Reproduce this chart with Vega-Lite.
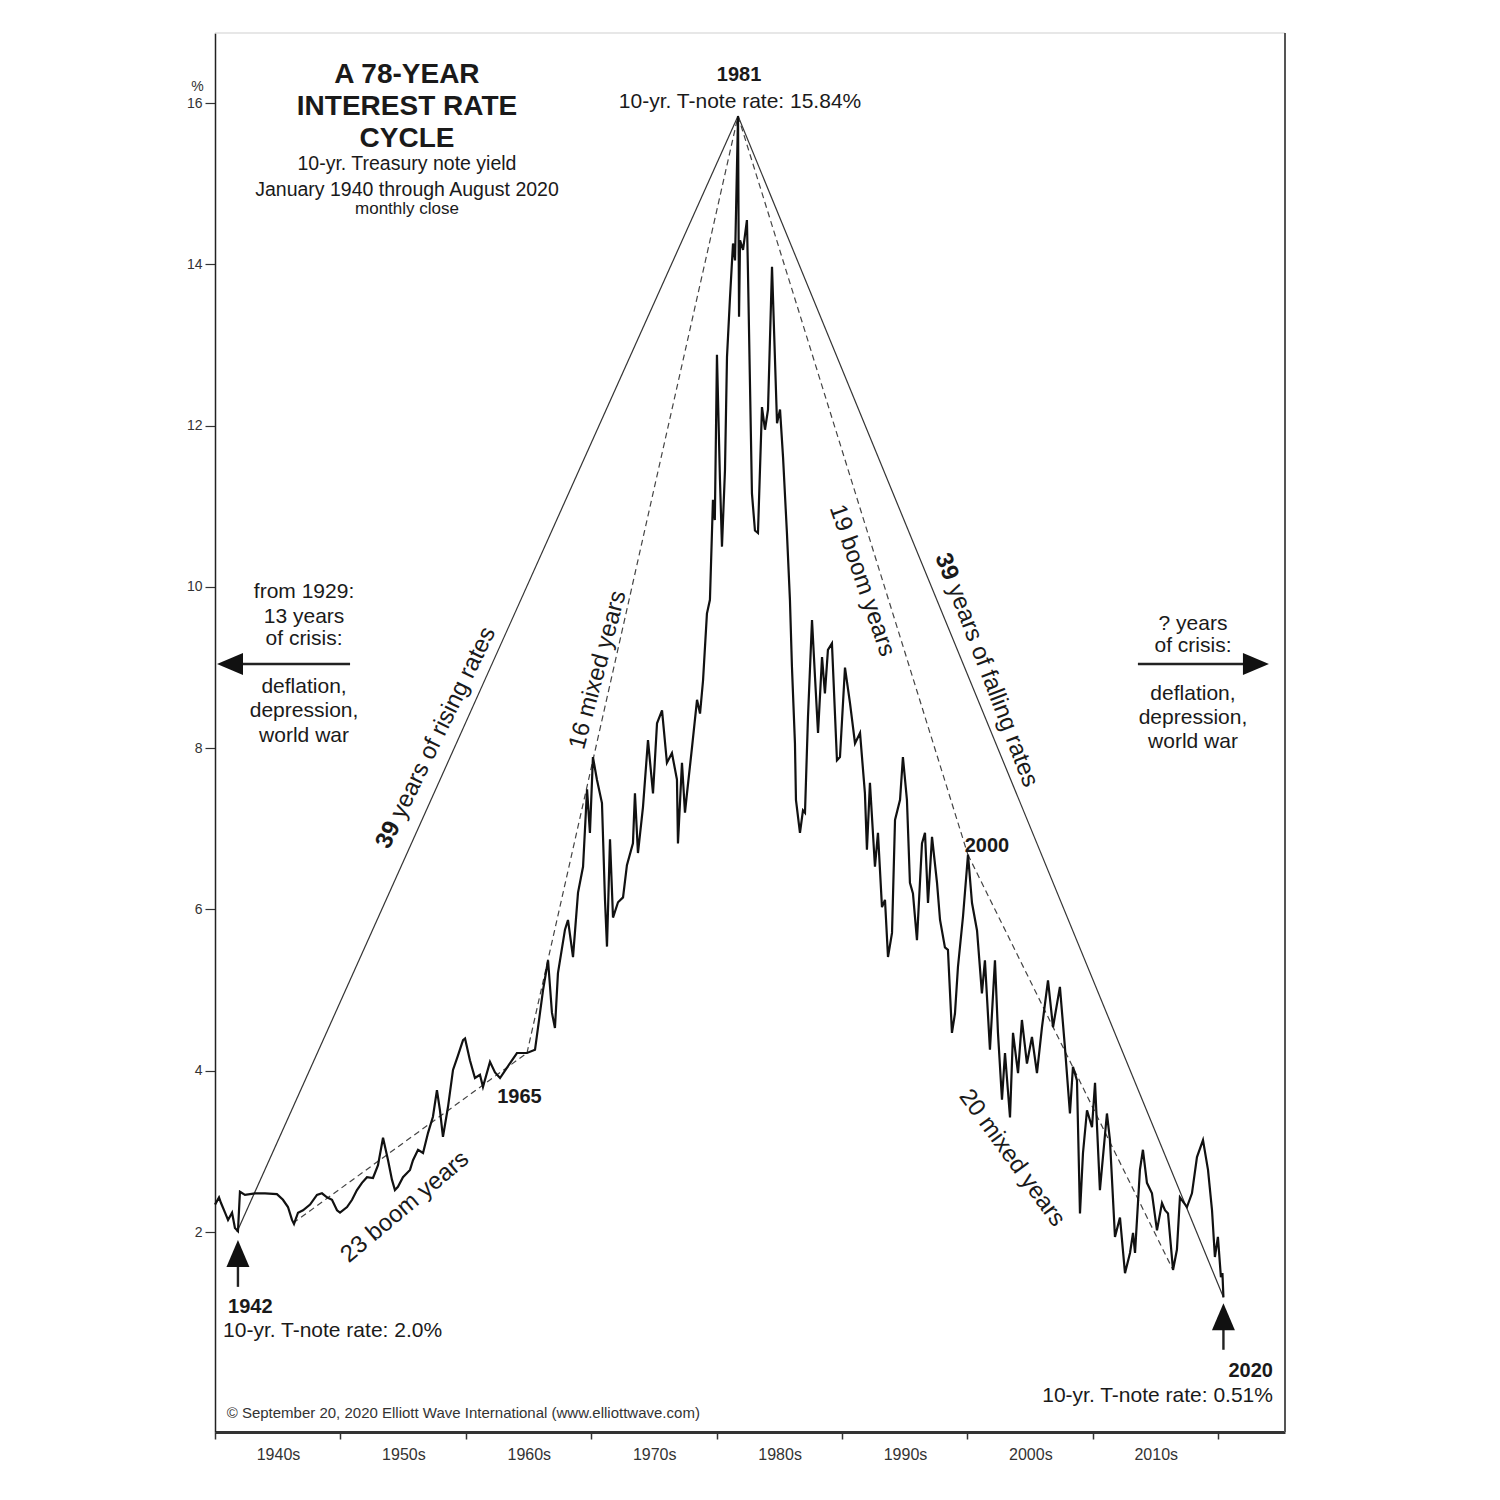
{
  "$schema": "https://vega.github.io/schema/vega-lite/v6.json",
  "width": 1070,
  "height": 1399,
  "autosize": {"type": "none"},
  "padding": {"left": 215, "top": 33, "right": 215, "bottom": 68},
  "background": "white",
  "config": {
    "view": {"stroke": null},
    "font": "Liberation Sans",
    "text": {"font": "Liberation Sans", "color": "#1a1a1a"}
  },
  "encoding": {
    "x": {
      "field": "year",
      "type": "quantitative",
      "scale": {"domain": [1940, 2025.33], "nice": false, "zero": false},
      "axis": {
        "values": [1940, 1950, 1960, 1970, 1980, 1990, 2000, 2010, 2020],
        "labelExpr": "datum.value >= 2020 ? '' : datum.value + 's'",
        "labelOffset": 63,
        "labelOverlap": false,
        "labelBound": false,
        "labelFlush": false,
        "labelFontSize": 16,
        "labelColor": "#333",
        "labelPadding": 7,
        "tickSize": 7,
        "tickColor": "#333",
        "tickWidth": 1.5,
        "domainColor": "#333",
        "domainWidth": 3,
        "grid": false,
        "title": null
      }
    },
    "y": {
      "field": "rate",
      "type": "quantitative",
      "scale": {"domain": [-0.48, 16.87], "nice": false, "zero": false},
      "axis": {
        "values": [2, 4, 6, 8, 10, 12, 14, 16],
        "labelFontSize": 14,
        "labelColor": "#333",
        "labelPadding": 3,
        "tickSize": 10,
        "tickColor": "#333",
        "tickWidth": 1.2,
        "domainColor": "#222",
        "domainWidth": 1.5,
        "grid": false,
        "title": "%",
        "titleAngle": 0,
        "titleX": -18,
        "titleY": 53,
        "titleFontSize": 14,
        "titleFontWeight": "normal",
        "titleColor": "#333",
        "titleAlign": "center",
        "titleBaseline": "middle"
      }
    }
  },
  "layer": [
    {
      "data": {"values": [
        {"year": 1940, "rate": 16.87, "year2": 2025.33, "rate2": 16.87, "edge": "top"}
      ]},
      "mark": {"type": "rule", "color": "#cfcfcf", "strokeWidth": 1},
      "encoding": {"x2": {"field": "year2"}, "y2": {"field": "rate2"}}
    },
    {
      "data": {"values": [
        {"year": 2025.33, "rate": 16.87, "year2": 2025.33, "rate2": -0.48, "edge": "right"}
      ]},
      "mark": {"type": "rule", "color": "#555", "strokeWidth": 2},
      "encoding": {"x2": {"field": "year2"}, "y2": {"field": "rate2"}}
    },
    {
      "data": {"values": [
        {"year": 1941.75, "rate": 2.0, "year2": 1981.71, "rate2": 15.84},
        {"year": 1981.71, "rate": 15.84, "year2": 2020.42, "rate2": 1.19}
      ]},
      "mark": {"type": "rule", "color": "#333", "strokeWidth": 1.2},
      "encoding": {"x2": {"field": "year2"}, "y2": {"field": "rate2"}}
    },
    {
      "data": {"values": [
        {"year": 1946.22, "rate": 2.11, "year2": 1964.88, "rate2": 4.22},
        {"year": 1964.88, "rate": 4.22, "year2": 1981.71, "rate2": 15.84},
        {"year": 1981.71, "rate": 15.84, "year2": 2000.04, "rate2": 6.68},
        {"year": 2000.04, "rate": 6.68, "year2": 2016.4, "rate2": 1.53}
      ]},
      "mark": {"type": "rule", "color": "#444", "strokeWidth": 1.2, "strokeDash": [6, 4]},
      "encoding": {"x2": {"field": "year2"}, "y2": {"field": "rate2"}}
    },
    {
      "data": {"values": [
        {"year": 1940.00, "rate": 2.34}, {"year": 1940.32, "rate": 2.43}, {"year": 1940.48, "rate": 2.36},
        {"year": 1940.80, "rate": 2.24}, {"year": 1941.04, "rate": 2.15}, {"year": 1941.36, "rate": 2.24},
        {"year": 1941.59, "rate": 2.05}, {"year": 1941.83, "rate": 2.01}, {"year": 1941.99, "rate": 2.50},
        {"year": 1942.39, "rate": 2.46}, {"year": 1943.19, "rate": 2.48}, {"year": 1943.99, "rate": 2.48},
        {"year": 1944.94, "rate": 2.47}, {"year": 1945.42, "rate": 2.40}, {"year": 1945.82, "rate": 2.31},
        {"year": 1946.14, "rate": 2.15}, {"year": 1946.30, "rate": 2.10}, {"year": 1946.62, "rate": 2.24},
        {"year": 1947.02, "rate": 2.27}, {"year": 1947.58, "rate": 2.34}, {"year": 1948.13, "rate": 2.46},
        {"year": 1948.53, "rate": 2.48}, {"year": 1948.93, "rate": 2.43}, {"year": 1949.33, "rate": 2.40},
        {"year": 1949.73, "rate": 2.27}, {"year": 1949.97, "rate": 2.24}, {"year": 1950.53, "rate": 2.31},
        {"year": 1950.93, "rate": 2.40}, {"year": 1951.32, "rate": 2.52}, {"year": 1951.72, "rate": 2.61},
        {"year": 1952.12, "rate": 2.68}, {"year": 1952.60, "rate": 2.67}, {"year": 1953.00, "rate": 2.83},
        {"year": 1953.40, "rate": 3.17}, {"year": 1953.80, "rate": 2.89}, {"year": 1954.11, "rate": 2.65},
        {"year": 1954.35, "rate": 2.52}, {"year": 1954.59, "rate": 2.56}, {"year": 1954.99, "rate": 2.68},
        {"year": 1955.55, "rate": 2.77}, {"year": 1955.79, "rate": 2.89}, {"year": 1956.19, "rate": 3.02},
        {"year": 1956.59, "rate": 2.98}, {"year": 1956.99, "rate": 3.23}, {"year": 1957.38, "rate": 3.43},
        {"year": 1957.70, "rate": 3.76}, {"year": 1957.94, "rate": 3.51}, {"year": 1958.18, "rate": 3.18},
        {"year": 1958.58, "rate": 3.55}, {"year": 1958.98, "rate": 4.01}, {"year": 1959.38, "rate": 4.19},
        {"year": 1959.78, "rate": 4.38}, {"year": 1959.94, "rate": 4.40}, {"year": 1960.33, "rate": 4.13},
        {"year": 1960.73, "rate": 3.91}, {"year": 1961.13, "rate": 3.95}, {"year": 1961.37, "rate": 3.80},
        {"year": 1961.93, "rate": 4.11}, {"year": 1962.33, "rate": 3.98}, {"year": 1962.73, "rate": 3.91},
        {"year": 1963.29, "rate": 4.04}, {"year": 1964.08, "rate": 4.22}, {"year": 1964.88, "rate": 4.22},
        {"year": 1965.52, "rate": 4.26}, {"year": 1965.92, "rate": 4.72}, {"year": 1966.16, "rate": 5.00},
        {"year": 1966.56, "rate": 5.37}, {"year": 1966.87, "rate": 4.72}, {"year": 1967.11, "rate": 4.53},
        {"year": 1967.35, "rate": 5.21}, {"year": 1967.91, "rate": 5.75}, {"year": 1968.15, "rate": 5.87},
        {"year": 1968.55, "rate": 5.41}, {"year": 1968.95, "rate": 6.21}, {"year": 1969.35, "rate": 6.53},
        {"year": 1969.67, "rate": 7.49}, {"year": 1969.90, "rate": 6.95}, {"year": 1970.14, "rate": 7.89},
        {"year": 1970.46, "rate": 7.61}, {"year": 1970.86, "rate": 7.32}, {"year": 1971.10, "rate": 6.12},
        {"year": 1971.26, "rate": 5.54}, {"year": 1971.50, "rate": 6.87}, {"year": 1971.74, "rate": 5.90},
        {"year": 1972.14, "rate": 6.09}, {"year": 1972.54, "rate": 6.15}, {"year": 1972.85, "rate": 6.55},
        {"year": 1973.33, "rate": 6.82}, {"year": 1973.49, "rate": 7.44}, {"year": 1973.73, "rate": 6.70},
        {"year": 1974.13, "rate": 7.27}, {"year": 1974.53, "rate": 8.10}, {"year": 1974.93, "rate": 7.44},
        {"year": 1975.25, "rate": 8.31}, {"year": 1975.65, "rate": 8.47}, {"year": 1976.04, "rate": 7.82},
        {"year": 1976.44, "rate": 7.94}, {"year": 1976.84, "rate": 7.61}, {"year": 1976.92, "rate": 6.82},
        {"year": 1977.24, "rate": 7.82}, {"year": 1977.48, "rate": 7.20}, {"year": 1977.64, "rate": 7.44},
        {"year": 1978.04, "rate": 8.01}, {"year": 1978.44, "rate": 8.60}, {"year": 1978.68, "rate": 8.43},
        {"year": 1978.92, "rate": 8.84}, {"year": 1979.23, "rate": 9.67}, {"year": 1979.47, "rate": 9.84},
        {"year": 1979.71, "rate": 11.08}, {"year": 1979.86, "rate": 10.83}, {"year": 1980.03, "rate": 12.88},
        {"year": 1980.27, "rate": 11.33}, {"year": 1980.43, "rate": 10.50}, {"year": 1980.67, "rate": 11.45},
        {"year": 1980.83, "rate": 12.85}, {"year": 1981.07, "rate": 13.59}, {"year": 1981.31, "rate": 14.26},
        {"year": 1981.47, "rate": 14.05}, {"year": 1981.71, "rate": 15.84}, {"year": 1981.79, "rate": 13.35},
        {"year": 1981.87, "rate": 14.30}, {"year": 1982.11, "rate": 14.18}, {"year": 1982.42, "rate": 14.55},
        {"year": 1982.50, "rate": 13.93}, {"year": 1982.82, "rate": 11.16}, {"year": 1983.06, "rate": 10.70},
        {"year": 1983.30, "rate": 10.67}, {"year": 1983.62, "rate": 12.23}, {"year": 1983.86, "rate": 11.95},
        {"year": 1984.10, "rate": 12.20}, {"year": 1984.42, "rate": 13.97}, {"year": 1984.82, "rate": 12.03},
        {"year": 1985.06, "rate": 12.20}, {"year": 1985.30, "rate": 11.61}, {"year": 1985.61, "rate": 10.67},
        {"year": 1985.85, "rate": 9.84}, {"year": 1986.01, "rate": 9.01}, {"year": 1986.25, "rate": 8.06},
        {"year": 1986.33, "rate": 7.36}, {"year": 1986.65, "rate": 6.95}, {"year": 1986.89, "rate": 7.23},
        {"year": 1987.05, "rate": 7.20}, {"year": 1987.29, "rate": 8.39}, {"year": 1987.61, "rate": 9.59},
        {"year": 1987.85, "rate": 8.88}, {"year": 1988.09, "rate": 8.19}, {"year": 1988.41, "rate": 9.13},
        {"year": 1988.64, "rate": 8.68}, {"year": 1988.88, "rate": 9.22}, {"year": 1989.20, "rate": 9.30},
        {"year": 1989.60, "rate": 7.85}, {"year": 1989.84, "rate": 7.89}, {"year": 1990.24, "rate": 9.00},
        {"year": 1990.64, "rate": 8.56}, {"year": 1991.04, "rate": 8.06}, {"year": 1991.44, "rate": 8.19},
        {"year": 1991.83, "rate": 7.44}, {"year": 1991.99, "rate": 6.74}, {"year": 1992.23, "rate": 7.57},
        {"year": 1992.63, "rate": 6.53}, {"year": 1992.87, "rate": 6.95}, {"year": 1993.19, "rate": 6.03},
        {"year": 1993.43, "rate": 6.12}, {"year": 1993.67, "rate": 5.41}, {"year": 1993.99, "rate": 5.71},
        {"year": 1994.23, "rate": 7.11}, {"year": 1994.63, "rate": 7.36}, {"year": 1994.86, "rate": 7.89},
        {"year": 1995.18, "rate": 7.36}, {"year": 1995.42, "rate": 6.33}, {"year": 1995.66, "rate": 6.20},
        {"year": 1995.98, "rate": 5.62}, {"year": 1996.38, "rate": 6.82}, {"year": 1996.62, "rate": 6.95},
        {"year": 1996.86, "rate": 6.08}, {"year": 1997.18, "rate": 6.90}, {"year": 1997.58, "rate": 6.33},
        {"year": 1997.82, "rate": 5.87}, {"year": 1998.21, "rate": 5.53}, {"year": 1998.45, "rate": 5.50},
        {"year": 1998.77, "rate": 4.47}, {"year": 1999.01, "rate": 4.71}, {"year": 1999.25, "rate": 5.29},
        {"year": 1999.65, "rate": 5.91}, {"year": 2000.05, "rate": 6.68}, {"year": 2000.37, "rate": 6.08},
        {"year": 2000.77, "rate": 5.74}, {"year": 2001.16, "rate": 4.96}, {"year": 2001.40, "rate": 5.37},
        {"year": 2001.80, "rate": 4.26}, {"year": 2002.20, "rate": 5.37}, {"year": 2002.44, "rate": 4.47},
        {"year": 2002.76, "rate": 3.64}, {"year": 2003.00, "rate": 4.22}, {"year": 2003.40, "rate": 3.42},
        {"year": 2003.64, "rate": 4.47}, {"year": 2004.04, "rate": 3.97}, {"year": 2004.35, "rate": 4.63},
        {"year": 2004.75, "rate": 4.09}, {"year": 2005.15, "rate": 4.42}, {"year": 2005.55, "rate": 3.97},
        {"year": 2005.95, "rate": 4.54}, {"year": 2006.43, "rate": 5.12}, {"year": 2006.83, "rate": 4.54},
        {"year": 2007.38, "rate": 5.04}, {"year": 2007.78, "rate": 4.29}, {"year": 2008.18, "rate": 3.47},
        {"year": 2008.42, "rate": 4.05}, {"year": 2008.74, "rate": 3.88}, {"year": 2008.98, "rate": 2.23},
        {"year": 2009.22, "rate": 2.98}, {"year": 2009.54, "rate": 3.51}, {"year": 2009.94, "rate": 3.30},
        {"year": 2010.18, "rate": 3.85}, {"year": 2010.57, "rate": 2.52}, {"year": 2011.13, "rate": 3.47},
        {"year": 2011.37, "rate": 3.14}, {"year": 2011.77, "rate": 1.94}, {"year": 2012.17, "rate": 2.18},
        {"year": 2012.57, "rate": 1.49}, {"year": 2012.97, "rate": 1.74}, {"year": 2013.21, "rate": 1.99},
        {"year": 2013.37, "rate": 1.74}, {"year": 2013.76, "rate": 2.77}, {"year": 2014.00, "rate": 3.02},
        {"year": 2014.32, "rate": 2.61}, {"year": 2014.72, "rate": 2.48}, {"year": 2015.12, "rate": 2.02},
        {"year": 2015.52, "rate": 2.36}, {"year": 2015.76, "rate": 2.27}, {"year": 2016.00, "rate": 2.23},
        {"year": 2016.40, "rate": 1.53}, {"year": 2016.71, "rate": 1.78}, {"year": 2016.95, "rate": 2.43},
        {"year": 2017.51, "rate": 2.31}, {"year": 2017.91, "rate": 2.48}, {"year": 2018.31, "rate": 2.93},
        {"year": 2018.79, "rate": 3.14}, {"year": 2019.19, "rate": 2.77}, {"year": 2019.51, "rate": 2.27},
        {"year": 2019.74, "rate": 1.69}, {"year": 2019.98, "rate": 1.94}, {"year": 2020.22, "rate": 1.44},
        {"year": 2020.34, "rate": 1.49}, {"year": 2020.42, "rate": 1.19}
      ]},
      "mark": {"type": "line", "color": "#111", "strokeWidth": 2.2}
    },
    {
      "data": {"values": [
        {"year": 1941.83, "rate": 1.73, "year2": 1941.83, "rate2": 1.32},
        {"year": 2020.42, "rate": 0.95, "year2": 2020.42, "rate2": 0.54},
        {"year": 1941.99, "rate": 9.044, "year2": 1950.77, "rate2": 9.044},
        {"year": 2013.6, "rate": 9.044, "year2": 2022.14, "rate2": 9.044}
      ]},
      "mark": {"type": "rule", "color": "#222", "strokeWidth": 2.4},
      "encoding": {"x2": {"field": "year2"}, "y2": {"field": "rate2"}}
    },
    {
      "data": {"values": [{"year": 1941.83, "rate": 1.734}, {"year": 2020.42, "rate": 0.95}]},
      "mark": {"type": "point", "shape": "M0,-1L0.85,1L-0.85,1Z", "size": 729, "filled": true, "color": "#111", "opacity": 1, "strokeWidth": 0}
    },
    {
      "data": {"values": [{"year": 1941.196, "rate": 9.044}]},
      "mark": {"type": "point", "shape": "M-1,0L1,-0.85L1,0.85Z", "size": 676, "filled": true, "color": "#111", "opacity": 1, "strokeWidth": 0}
    },
    {
      "data": {"values": [{"year": 2023.014, "rate": 9.044}]},
      "mark": {"type": "point", "shape": "M1,0L-1,-0.85L-1,0.85Z", "size": 676, "filled": true, "color": "#111", "opacity": 1, "strokeWidth": 0}
    },
    {
      "data": {"values": [
        {"year": 1955.31, "rate": 16.245, "label": "A 78-YEAR"},
        {"year": 1955.31, "rate": 15.852, "label": "INTEREST RATE"},
        {"year": 1955.31, "rate": 15.459, "label": "CYCLE"}
      ]},
      "mark": {"type": "text", "fontSize": 28, "fontWeight": "bold", "align": "center", "baseline": "alphabetic"},
      "encoding": {"text": {"field": "label"}}
    },
    {
      "data": {"values": [
        {"year": 1955.31, "rate": 15.170, "label": "10-yr. Treasury note yield"},
        {"year": 1955.31, "rate": 14.851, "label": "January 1940 through August 2020"}
      ]},
      "mark": {"type": "text", "fontSize": 19.5, "align": "center", "baseline": "alphabetic"},
      "encoding": {"text": {"field": "label"}}
    },
    {
      "data": {"values": [{"year": 1955.31, "rate": 14.624, "label": "monthly close"}]},
      "mark": {"type": "text", "fontSize": 17, "align": "center", "baseline": "alphabetic"},
      "encoding": {"text": {"field": "label"}}
    },
    {
      "data": {"values": [
        {"year": 1981.87, "rate": 15.938, "label": "10-yr. T-note rate: 15.84%"},
        {"year": 1947.10, "rate": 9.866, "label": "from 1929:"},
        {"year": 1947.10, "rate": 9.549, "label": "13 years"},
        {"year": 1947.10, "rate": 9.280, "label": "of crisis:"},
        {"year": 1947.10, "rate": 8.681, "label": "deflation,"},
        {"year": 1947.10, "rate": 8.390, "label": "depression,"},
        {"year": 1947.10, "rate": 8.080, "label": "world war"},
        {"year": 2017.99, "rate": 9.466, "label": "? years"},
        {"year": 2017.99, "rate": 9.196, "label": "of crisis:"},
        {"year": 2017.99, "rate": 8.597, "label": "deflation,"},
        {"year": 2017.99, "rate": 8.300, "label": "depression,"},
        {"year": 2017.99, "rate": 8.002, "label": "world war"}
      ]},
      "mark": {"type": "text", "fontSize": 21, "align": "center", "baseline": "alphabetic"},
      "encoding": {"text": {"field": "label"}}
    },
    {
      "data": {"values": [{"year": 1940.64, "rate": 0.702, "label": "10-yr. T-note rate: 2.0%"}]},
      "mark": {"type": "text", "fontSize": 21, "align": "left", "baseline": "alphabetic"},
      "encoding": {"text": {"field": "label"}}
    },
    {
      "data": {"values": [{"year": 2024.37, "rate": -0.104, "label": "10-yr. T-note rate: 0.51%"}]},
      "mark": {"type": "text", "fontSize": 21, "align": "right", "baseline": "alphabetic"},
      "encoding": {"text": {"field": "label"}}
    },
    {
      "data": {"values": [
        {"year": 1981.79, "rate": 16.273, "label": "1981"},
        {"year": 1964.28, "rate": 3.596, "label": "1965"},
        {"year": 2001.56, "rate": 6.716, "label": "2000"}
      ]},
      "mark": {"type": "text", "fontSize": 20, "fontWeight": "bold", "align": "center", "baseline": "alphabetic"},
      "encoding": {"text": {"field": "label"}}
    },
    {
      "data": {"values": [{"year": 1941.04, "rate": 0.992, "label": "1942"}]},
      "mark": {"type": "text", "fontSize": 20, "fontWeight": "bold", "align": "left", "baseline": "alphabetic"},
      "encoding": {"text": {"field": "label"}}
    },
    {
      "data": {"values": [{"year": 2024.37, "rate": 0.206, "label": "2020"}]},
      "mark": {"type": "text", "fontSize": 20, "fontWeight": "bold", "align": "right", "baseline": "alphabetic"},
      "encoding": {"text": {"field": "label"}}
    },
    {
      "data": {"values": [{"year": 1940.93, "rate": -0.31, "label": "© September 20, 2020 Elliott Wave International (www.elliottwave.com)"}]},
      "mark": {"type": "text", "fontSize": 15, "align": "left", "baseline": "alphabetic", "color": "#333"},
      "encoding": {"text": {"field": "label"}}
    },
    {
      "data": {"values": [{"year": 1953.83, "rate": 6.926, "label": "39"}]},
      "mark": {"type": "text", "fontSize": 24, "fontWeight": "bold", "align": "center", "baseline": "middle", "angle": 296},
      "encoding": {"text": {"field": "label"}}
    },
    {
      "data": {"values": [{"year": 1958.22, "rate": 8.315, "label": "years of rising rates"}]},
      "mark": {"type": "text", "fontSize": 24, "align": "center", "baseline": "middle", "angle": 296},
      "encoding": {"text": {"field": "label"}}
    },
    {
      "data": {"values": [{"year": 1998.33, "rate": 10.252, "label": "39"}]},
      "mark": {"type": "text", "fontSize": 24, "fontWeight": "bold", "align": "center", "baseline": "middle", "angle": 69},
      "encoding": {"text": {"field": "label"}}
    },
    {
      "data": {"values": [{"year": 2002.01, "rate": 8.776, "label": "years of falling rates"}]},
      "mark": {"type": "text", "fontSize": 24, "align": "center", "baseline": "middle", "angle": 69},
      "encoding": {"text": {"field": "label"}}
    },
    {
      "data": {"values": [{"year": 1970.54, "rate": 8.97, "label": "16 mixed years"}]},
      "mark": {"type": "text", "fontSize": 24, "align": "center", "baseline": "middle", "angle": 285},
      "encoding": {"text": {"field": "label"}}
    },
    {
      "data": {"values": [{"year": 1991.6, "rate": 10.08, "label": "19 boom years"}]},
      "mark": {"type": "text", "fontSize": 24, "align": "center", "baseline": "middle", "angle": 71},
      "encoding": {"text": {"field": "label"}}
    },
    {
      "data": {"values": [{"year": 1955.15, "rate": 2.31, "label": "23 boom years"}]},
      "mark": {"type": "text", "fontSize": 24, "align": "center", "baseline": "middle", "angle": 320},
      "encoding": {"text": {"field": "label"}}
    },
    {
      "data": {"values": [{"year": 2003.56, "rate": 2.918, "label": "20 mixed years"}]},
      "mark": {"type": "text", "fontSize": 24, "align": "center", "baseline": "middle", "angle": 54},
      "encoding": {"text": {"field": "label"}}
    }
  ]
}
